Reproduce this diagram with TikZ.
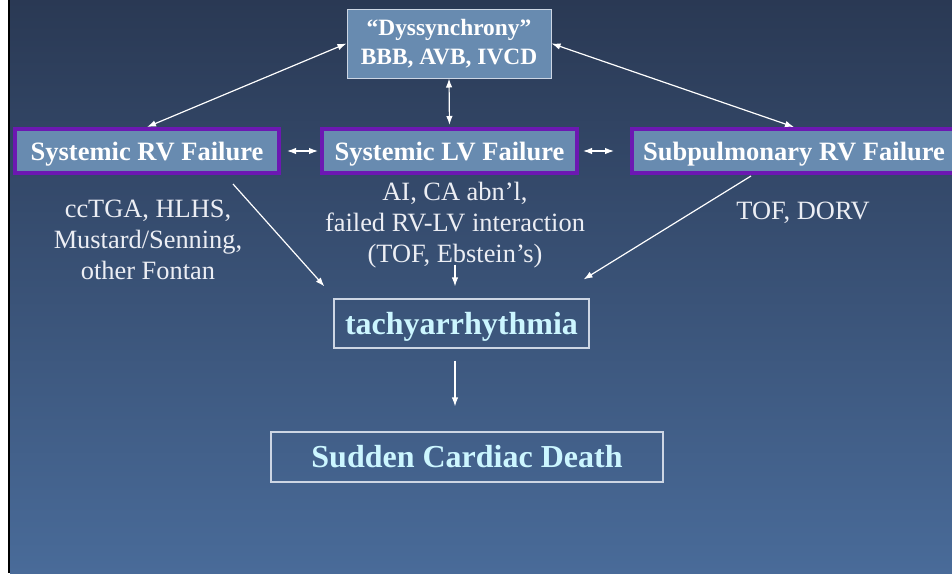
\documentclass[tikz,border=0pt]{standalone}
\usepackage{fontspec}
\setmainfont{Liberation Serif}
\usepackage{tikz}
\usetikzlibrary{arrows.meta, positioning, calc}
\definecolor{slideTop}{RGB}{42,57,84}
\definecolor{slideBottom}{RGB}{73,107,153}
\definecolor{boxFill}{RGB}{104,139,176}
\definecolor{failBorder}{RGB}{108,24,178}
\definecolor{outcomeCyan}{RGB}{204,246,255}
\definecolor{noteGray}{RGB}{236,238,244}
\definecolor{frameLine}{RGB}{205,214,228}
\tikzset{
  baseNode/.style={
    inner sep=0pt,
    align=center,
    text=white
  },
  dyssNode/.style={baseNode, draw=frameLine, line width=1pt, fill=boxFill, font=\bfseries\fontsize{23.4}{28.5}\selectfont},
  failNode/.style={baseNode, draw=failBorder, line width=4pt, fill=boxFill, minimum height=44pt, text height=24pt, text depth=6pt, font=\bfseries\fontsize{26.5}{28}\selectfont},
  outcomeNode/.style={baseNode, draw=frameLine, line width=1.2pt, text=outcomeCyan, text height=28pt, text depth=7pt, font=\bfseries\fontsize{32}{34}\selectfont},
  causeText/.style={baseNode, text=noteGray, font=\fontsize{26.4}{31}\selectfont},
  linkFlow/.style={-{Latex[length=9pt,width=6.5pt]}, draw=white, line width=1.2pt},
  pairFlow/.style={{Latex[length=9pt,width=6.5pt]}-{Latex[length=9pt,width=6.5pt]}, draw=white, line width=1.2pt}
}

\begin{document}
\begin{tikzpicture}[x=1pt, y=-1pt]
  \useasboundingbox (0,0) rectangle (952,573);
  \fill[white] (0,0) rectangle (952,573);
  \fill[black] (8,0) rectangle (10,573);
  \shade[top color=slideTop, bottom color=slideBottom] (10,0) rectangle (952,573);

  \node[dyssNode, minimum width=204pt, minimum height=69pt] (dyss) at (449,43.5) {“Dyssynchrony”\\BBB, AVB, IVCD};
  \node[failNode, minimum width=264pt] (rvFail) at (147,151) {Systemic RV Failure};
  \node[failNode, minimum width=255pt] (lvFail) at (449.5,151) {Systemic LV Failure};
  \node[failNode, minimum width=324pt] (pvFail) at (794,151) {Subpulmonary RV Failure};

  \node[causeText] (rvNote) at (148,240) {ccTGA, HLHS,\\Mustard/Senning,\\other Fontan};
  \node[causeText] (lvNote) at (455,225.5) {AI, CA abn’l,\\failed RV-LV interaction\\(TOF, Ebstein’s)};
  \node[causeText] (pvNote) at (803,213) {TOF, DORV};

  \node[outcomeNode, minimum width=255pt, minimum height=49pt] (tachy) at (461.5,323.5) {tachyarrhythmia};
  \node[outcomeNode, minimum width=392pt, minimum height=50pt] (scd) at (467,457) {Sudden Cardiac Death};

  \draw[pairFlow] (dyss.west) -- (rvFail.north);
  \draw[pairFlow] (dyss.east) -- (pvFail.north);
  \draw[pairFlow, shorten >=2pt] (dyss.south) -- (lvFail.north);
  \draw[pairFlow, shorten <=6pt, shorten >=2pt] (rvFail) -- (lvFail);
  \draw[pairFlow, shorten <=4pt, shorten >=16pt] (lvFail) -- (pvFail);

  \draw[linkFlow] ($(rvFail.south east)+(-48,9)$) -- ($(tachy.north west)+(-9,-12)$);
  \draw[linkFlow] ($(pvFail.south west)+(121,1)$) -- ($(tachy.north east)+(-6,-19)$);
  \draw[linkFlow] ($(lvNote.south)+(0,-4)$) -- ($(tachy.north -| lvNote.south)+(0,-12)$);
  \draw[linkFlow] ($(tachy.south -| lvNote.south)+(0,12)$) -- ($(scd.north -| lvNote.south)+(0,-25)$);
\end{tikzpicture}
\end{document}
